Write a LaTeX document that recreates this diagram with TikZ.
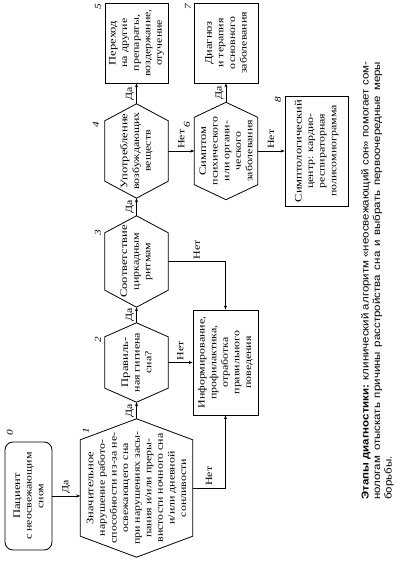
\documentclass[tikz,border=0pt]{standalone}
\usepackage{fontspec}
\setmainfont{Liberation Serif}[FakeStretch=1.25]
\newfontfamily\capfont{Liberation Sans}[FakeStretch=1.15]
\usetikzlibrary{arrows.meta,calc}
\newcommand{\firstln}[1]{{\fontsize{10}{12}\selectfont #1}}

\begin{document}
\begin{tikzpicture}[x=1pt, y=1pt, rotate=90, transform shape,
  blk/.style={draw, line width=0.8pt, align=center, inner sep=1pt,
    font=\fontsize{9.5}{11.6}\selectfont},
  hexnode/.style={align=center, inner sep=0pt,
    font=\fontsize{9.5}{11.6}\selectfont},
  numlbl/.style={font=\itshape\fontsize{9}{9}\selectfont, inner sep=0pt},
  lbl/.style={font=\fontsize{9.5}{10}\selectfont, inner sep=2pt},
  arr/.style={-{Stealth[length=4pt, width=3pt]}, line width=0.6pt}]
\useasboundingbox (0,0) rectangle (562,-406);
% Start
\node[blk, rounded corners=8pt, minimum width=108pt, minimum height=47pt]
  (pat) at (66,-28.5) {\firstln{Пациент}\\с неосвежающим\\сном};
% Decisions
\node[hexnode, minimum width=138pt, minimum height=112pt] (h1) at (74,-136.5)
  {\firstln{Значительное}\\нарушение работо-\\способности из-за не-\\освежающего сна\\при нарушениях засы-\\пания и/или преры-\\вистости ночного сна\\и/или дневной\\сонливости};
\node[hexnode, minimum width=79pt, minimum height=63pt] (h2) at (199.5,-136.5)
  {\firstln{Правиль-}\\ная гигиена\\сна?};
\node[hexnode, minimum width=91pt, minimum height=63pt] (h3) at (300.5,-136.5)
  {\firstln{Соответствие}\\циркадным\\ритмам};
\node[hexnode, minimum width=94pt, minimum height=63pt] (h4) at (411,-136.5)
  {\firstln{Употребление}\\возбуждающих\\веществ};
\node[hexnode, minimum width=97pt, minimum height=63pt] (h6) at (411,-226)
  {\firstln{Симптом}\\психического\\или органи-\\ческого\\заболевания};
% Outcomes
\node[blk, minimum width=80pt, minimum height=63pt] (b5) at (519,-136.5)
  {\firstln{Переход}\\на другие\\препараты,\\воздержание,\\отучение};
\node[blk, minimum width=105pt, minimum height=65pt] (info) at (199.5,-225.5)
  {Информирование,\\профилактика,\\отработка\\правильного\\поведения};
\node[blk, minimum width=80pt, minimum height=64pt] (b7) at (519,-226)
  {\firstln{Диагноз}\\и терапия\\основного\\заболевания};
\node[blk, minimum width=110pt, minimum height=63pt] (b8) at (411,-316.5)
  {\firstln{Симптологический}\\центр: кардио-\\респираторная\\полисомнограмма};
% Hexagon outlines
\foreach \h/\e in {h1/21, h2/14, h3/17, h4/17, h6/15}
  \draw[line width=0.8pt] (\h.west) -- ($(\h.north west)+(\e,0)$)
    -- ($(\h.north east)+(-\e,0)$) -- (\h.east)
    -- ($(\h.south east)+(-\e,0)$) -- ($(\h.south west)+(\e,0)$) -- cycle;
% Step numbers
\node[numlbl] (n0) at (129,-10) {0};
\node[numlbl] (n1) at (131,-86) {1};
\node[numlbl] (n2) at (222,-98) {2};
\node[numlbl] (n3) at (329,-98) {3};
\node[numlbl] (n4) at (437,-96) {4};
\node[numlbl] (n5) at (555,-98) {5};
\node[numlbl] (n6) at (437,-187) {6};
\node[numlbl] (n7) at (555,-188) {7};
\node[numlbl] (n8) at (462,-278) {8};
% Yes branches
\draw[arr] (pat.south) -- (pat.south |- h1.north)
  node[midway, right, lbl] {Да};
\draw[arr] (h1.east) -- (h2.west) node[midway, above, lbl] {Да};
\draw[arr] (h2.east) -- (h3.west) node[midway, above, lbl] {Да};
\draw[arr] (h3.east) -- (h4.west) node[midway, above, lbl] {Да};
\draw[arr] (h4.east) -- (b5.west) node[midway, above, lbl] {Да};
\draw[arr] (h6.east) -- (b7.west) node[midway, above, lbl] {Да};
% No branches
\draw[arr] (h1.south) |- (info.west) node[pos=0.25, right, lbl] {Нет};
\draw[arr] (h2.south) -- (info.north) node[midway, right, lbl] {Нет};
\draw[arr] (h3.south) |- (info.east) node[pos=0.25, right, lbl] {Нет};
\draw[arr] (h4.south) -- (h6.north) node[midway, right, lbl] {Нет};
\draw[arr] (h6.south) -- (b8.north) node[midway, right, lbl] {Нет};
% Caption
\node[anchor=north west, inner sep=0pt, text width=438pt, align=justify,
  font=\capfont\fontsize{10}{11.5}\selectfont] (cap) at (62,-361)
  {\textbf{Этапы диагностики:} клинический алгоритм «неосвежающий сон» помогает сом-\linebreak нологам отыскать причины расстройства сна и выбрать первоочередные меры\linebreak борьбы.};
\end{tikzpicture}
\end{document}
